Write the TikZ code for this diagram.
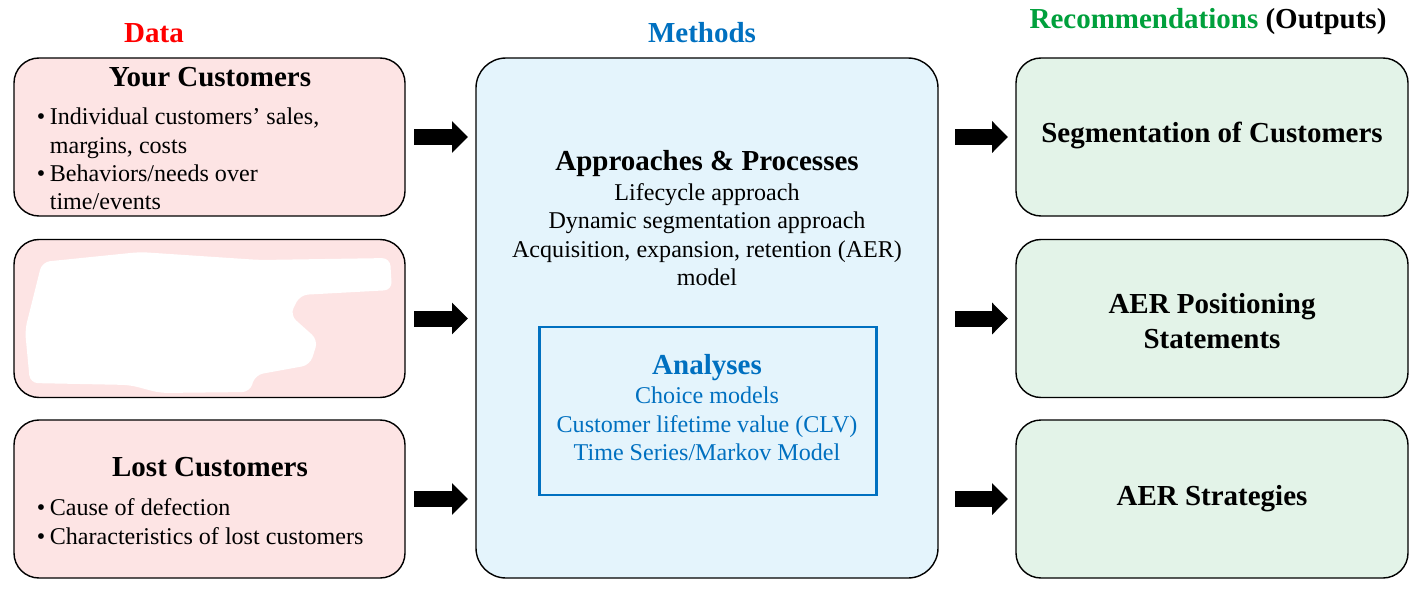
\documentclass[tikz,border=0pt]{standalone}
\usepackage{fontspec}
\setmainfont{Liberation Serif}
\usetikzlibrary{arrows.meta}
\definecolor{datafill}{RGB}{253,228,228}
\definecolor{methfill}{RGB}{228,244,252}
\definecolor{outfill}{RGB}{227,243,232}
\definecolor{methblue}{RGB}{0,112,192}
\definecolor{recgreen}{RGB}{0,160,60}

\begin{document}
\begin{tikzpicture}[every node/.style={outer sep=0pt}]
	\tikzstyle{databox}=[draw,line width=0.8pt,rounded corners=0.5cm,fill=datafill,minimum width=7.82cm,minimum height=3.16cm]
	\tikzstyle{outbox}=[databox,fill=outfill,minimum width=7.84cm]
	\tikzstyle{head}=[font=\fontsize{16.5}{20}\selectfont\bfseries,align=center]
	\tikzstyle{body}=[font=\fontsize{13.7}{16.2}\selectfont]
	\tikzstyle{blockarrow}=[line width=0.32cm,-{Triangle[width=0.62cm,length=0.32cm]}]
	\newcommand{\bul}{\makebox[0.26cm][l]{\textbullet}}
	
	\useasboundingbox (0,0) rectangle (28.5,-11.84);
	
	% column headers
	\node (hdata) [head,text=red] at (3.08,-0.66) {Data};
	\node (hmeth) [head,text=methblue] at (14.04,-0.66) {Methods};
	\node (hrec) [head] at (24.16,-0.44) {\textcolor{recgreen}{Recommendations} (Outputs)};
	
	% data boxes
	\node (dat1) [databox] at (4.19,-2.74) {};
	\node (dat2) [databox] at (4.19,-6.37) {};
	\node (dat3) [databox] at (4.19,-9.98) {};
	
	\node (dat1head) [head] at (4.2,-1.54) {Your Customers};
	\node (dat1txt) [body,anchor=west,align=left] at (0.62,-3.18) {\bul Individual customers’ sales,\\ \hspace*{0.26cm}margins, costs\\ \bul Behaviors/needs over\\ \hspace*{0.26cm}time/events};
	
	% blanked out contents
	\fill[white,rounded corners=0.16cm] (0.84,-5.24) -- (2.8,-5.04) -- (5.2,-5.2) -- (7.8,-5.16) -- (7.84,-5.8) -- (6.0,-5.9) -- (5.8,-6.3) -- (6.36,-6.8) -- (6.2,-7.3) -- (5.1,-7.5) -- (5.0,-7.84) -- (3.2,-7.86) -- (2.6,-7.7) -- (0.6,-7.66) -- (0.5,-6.6) -- (0.7,-5.8) -- cycle;
	
	\node (dat3head) [head] at (4.2,-9.34) {Lost Customers};
	\node (dat3txt) [body,anchor=west,align=left] at (0.62,-10.43) {\bul Cause of defection\\ \bul Characteristics of lost customers};
	
	% methods box
	\node (meth) [databox,fill=methfill,rounded corners=0.6cm,minimum width=9.24cm,minimum height=10.4cm] at (14.14,-6.36) {};
	\node (methhead) [head] at (14.14,-3.28) {Approaches \& Processes};
	\node (methtxt) [body,align=center] at (14.14,-4.69) {Lifecycle approach\\ Dynamic segmentation approach\\ Acquisition, expansion, retention (AER)\\ model};
	
	\node (ana) [draw=methblue,line width=1.7pt,minimum width=6.74cm,minimum height=3.36cm] at (14.15,-8.22) {};
	\node (anahead) [head,text=methblue] at (14.14,-7.36) {Analyses};
	\node (anatxt) [body,align=center,text=methblue] at (14.14,-8.48) {Choice models\\ Customer lifetime value (CLV)\\ Time Series/Markov Model};
	
	% output boxes
	\node (out1) [outbox] at (24.24,-2.74) {};
	\node (out2) [outbox] at (24.24,-6.37) {};
	\node (out3) [outbox] at (24.24,-9.98) {};
	\node (out1txt) [head] at (24.24,-2.70) {Segmentation of Customers};
	\node (out2txt) [head,font=\fontsize{16.5}{19.9}\selectfont\bfseries] at (24.24,-6.42) {AER Positioning\\ Statements};
	\node (out3txt) [head] at (24.24,-9.97) {AER Strategies};
	
	% block arrows
	\foreach \i in {1,2,3}{
		\draw [blockarrow,shorten <=0.18cm,shorten >=0.16cm] (dat\i.east) -- (meth.west |- dat\i.east);
		\draw [blockarrow,shorten <=0.34cm,shorten >=0.16cm] (meth.east |- out\i.west) -- (out\i.west);
	}
\end{tikzpicture}
\end{document}
